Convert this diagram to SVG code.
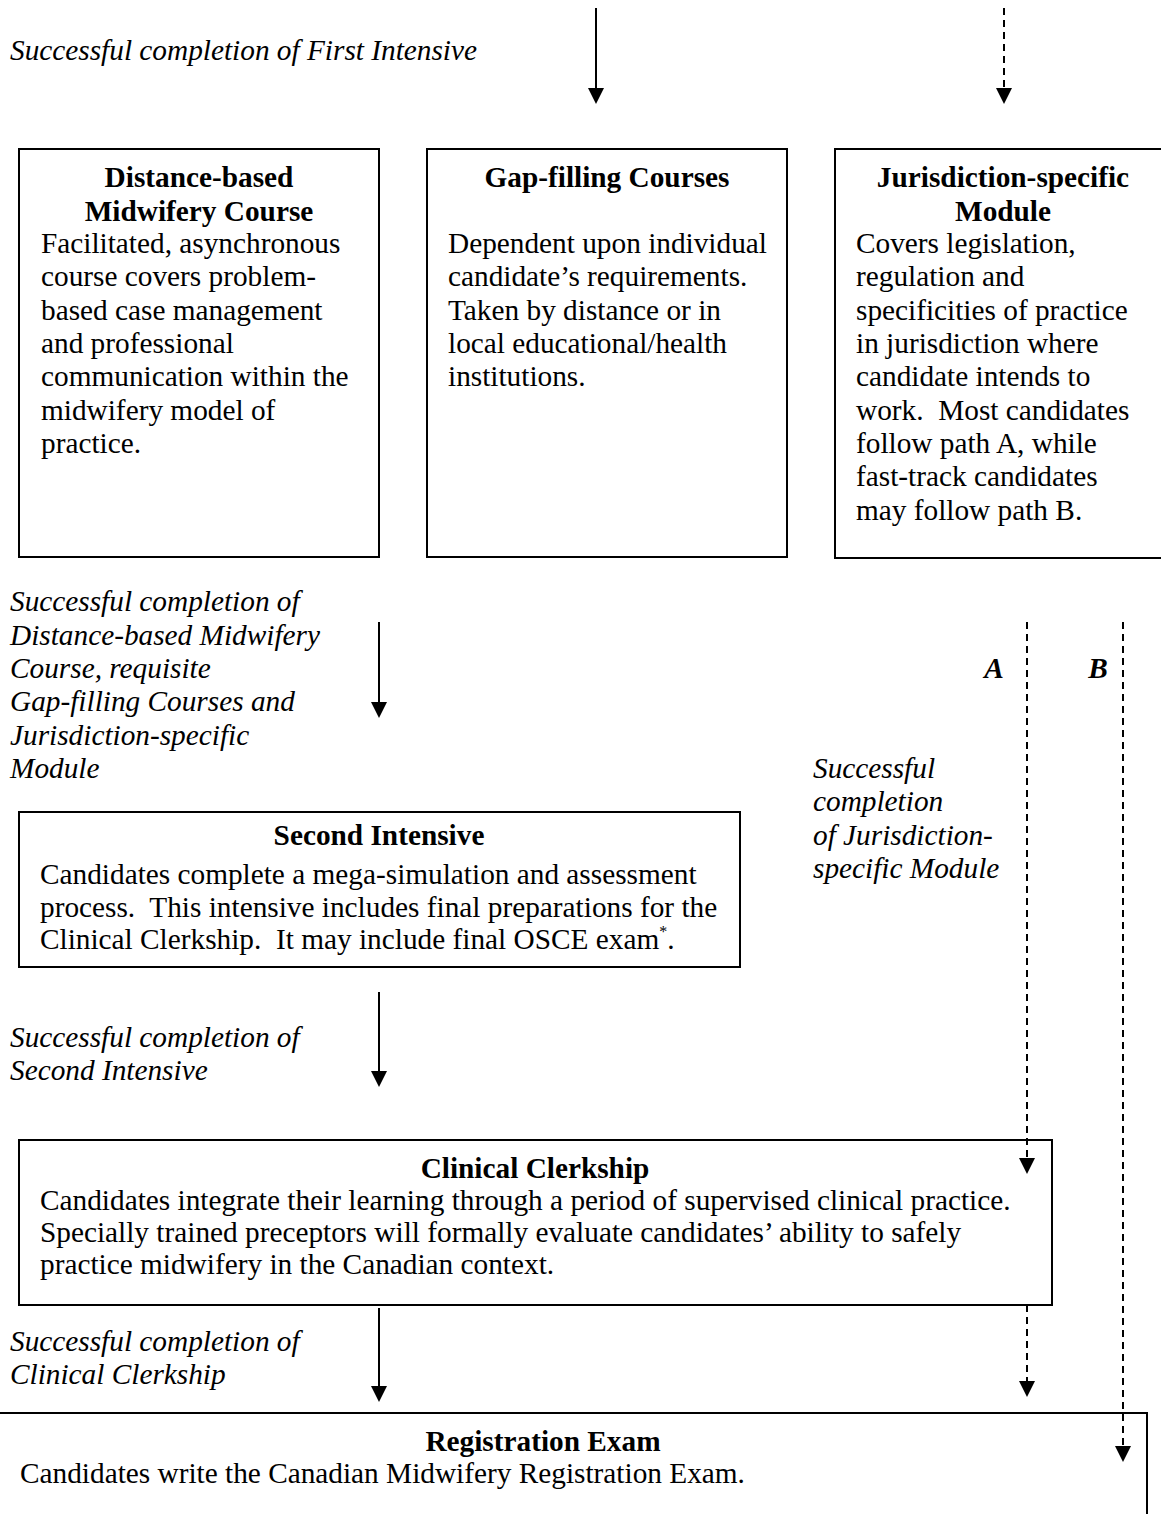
<svg xmlns="http://www.w3.org/2000/svg" width="1161" height="1514" viewBox="0 0 1161 1514">
<style>
text{font-family:"Liberation Serif","Times New Roman",serif;font-size:29.3px;fill:#000}
.t{font-weight:bold;text-anchor:middle}
.i{font-style:italic}
.bi{font-style:italic;font-weight:bold}
.box{fill:#fff;stroke:#000;stroke-width:2}
.ln{stroke:#000;stroke-width:2;fill:none}
.dl{stroke:#000;stroke-width:2;fill:none;stroke-dasharray:7 5}
</style>
<defs>
<path id="tri" d="M-8,-16 L8,-16 L0,0 Z" fill="#000"/>
</defs>

<g id="labels">
<text class="i" x="10" y="60">Successful completion of First Intensive</text>
<text class="i" x="10" y="611">Successful completion of</text>
<text class="i" x="10" y="645">Distance-based Midwifery</text>
<text class="i" x="10" y="678">Course, requisite</text>
<text class="i" x="10" y="711">Gap-filling Courses and</text>
<text class="i" x="10" y="745">Jurisdiction-specific</text>
<text class="i" x="10" y="778">Module</text>
<text class="bi" x="994" y="678" text-anchor="middle">A</text>
<text class="bi" x="1098" y="678" text-anchor="middle">B</text>
<text class="i" x="813" y="778">Successful</text>
<text class="i" x="813" y="811">completion</text>
<text class="i" x="813" y="845">of Jurisdiction-</text>
<text class="i" x="813" y="878">specific Module</text>
<text class="i" x="10" y="1047">Successful completion of</text>
<text class="i" x="10" y="1080">Second Intensive</text>
<text class="i" x="10" y="1351">Successful completion of</text>
<text class="i" x="10" y="1384">Clinical Clerkship</text>
</g>

<g id="node-distance">
<rect class="box" x="19" y="149" width="360" height="408"/>
<text class="t" x="199" y="187">Distance-based</text>
<text class="t" x="199" y="221">Midwifery Course</text>
<text x="41" y="253">Facilitated, asynchronous</text>
<text x="41" y="286">course covers problem-</text>
<text x="41" y="320">based case management</text>
<text x="41" y="353">and professional</text>
<text x="41" y="386">communication within the</text>
<text x="41" y="420">midwifery model of</text>
<text x="41" y="453">practice.</text>
</g>

<g id="node-gap">
<rect class="box" x="427" y="149" width="360" height="408"/>
<text class="t" x="607" y="187">Gap-filling Courses</text>
<text x="448" y="253">Dependent upon individual</text>
<text x="448" y="286">candidate’s requirements.</text>
<text x="448" y="320">Taken by distance or in</text>
<text x="448" y="353">local educational/health</text>
<text x="448" y="386">institutions.</text>
</g>

<g id="node-jurisdiction">
<rect class="box" x="835" y="149" width="340" height="409"/>
<text class="t" x="1003" y="187">Jurisdiction-specific</text>
<text class="t" x="1003" y="221">Module</text>
<text x="856" y="253">Covers legislation,</text>
<text x="856" y="286">regulation and</text>
<text x="856" y="320">specificities of practice</text>
<text x="856" y="353">in jurisdiction where</text>
<text x="856" y="386">candidate intends to</text>
<text x="856" y="420">work.&#160; Most candidates</text>
<text x="856" y="453">follow path A, while</text>
<text x="856" y="486">fast-track candidates</text>
<text x="856" y="520">may follow path B.</text>
</g>

<g id="node-second">
<rect class="box" x="19" y="812" width="721" height="155"/>
<text class="t" x="379" y="845">Second Intensive</text>
<text x="40" y="884">Candidates complete a mega-simulation and assessment</text>
<text x="40" y="917">process.&#160; This intensive includes final preparations for the</text>
<text x="40" y="949">Clinical Clerkship.&#160; It may include final OSCE exam<tspan font-size="16" dy="-12">*</tspan><tspan dy="12">.</tspan></text>
</g>

<g id="node-clinical">
<rect class="box" x="19" y="1140" width="1033" height="165"/>
<text class="t" x="535" y="1178">Clinical Clerkship</text>
<text x="40" y="1210">Candidates integrate their learning through a period of supervised clinical practice.</text>
<text x="40" y="1242">Specially trained preceptors will formally evaluate candidates’ ability to safely</text>
<text x="40" y="1274">practice midwifery in the Canadian context.</text>
</g>

<g id="node-registration">
<rect class="box" x="-10" y="1413" width="1157" height="120"/>
<text class="t" x="543" y="1451">Registration Exam</text>
<text x="20" y="1483">Candidates write the Canadian Midwifery Registration Exam.</text>
</g>

<g id="connectors">
<line class="ln" x1="596" y1="8" x2="596" y2="90"/>
<use href="#tri" x="596" y="104"/>
<line class="dl" x1="1004" y1="8" x2="1004" y2="90"/>
<use href="#tri" x="1004" y="104"/>
<line class="ln" x1="379" y1="622" x2="379" y2="704"/>
<use href="#tri" x="379" y="718"/>
<line class="ln" x1="379" y1="992" x2="379" y2="1073"/>
<use href="#tri" x="379" y="1087"/>
<line class="ln" x1="379" y1="1308" x2="379" y2="1388"/>
<use href="#tri" x="379" y="1402"/>
<line class="dl" x1="1027" y1="622" x2="1027" y2="1160"/>
<use href="#tri" x="1027" y="1174"/>
<line class="dl" x1="1027" y1="1305" x2="1027" y2="1383"/>
<use href="#tri" x="1027" y="1397"/>
<line class="dl" x1="1123" y1="622" x2="1123" y2="1448"/>
<use href="#tri" x="1123" y="1462"/>
</g>
</svg>
